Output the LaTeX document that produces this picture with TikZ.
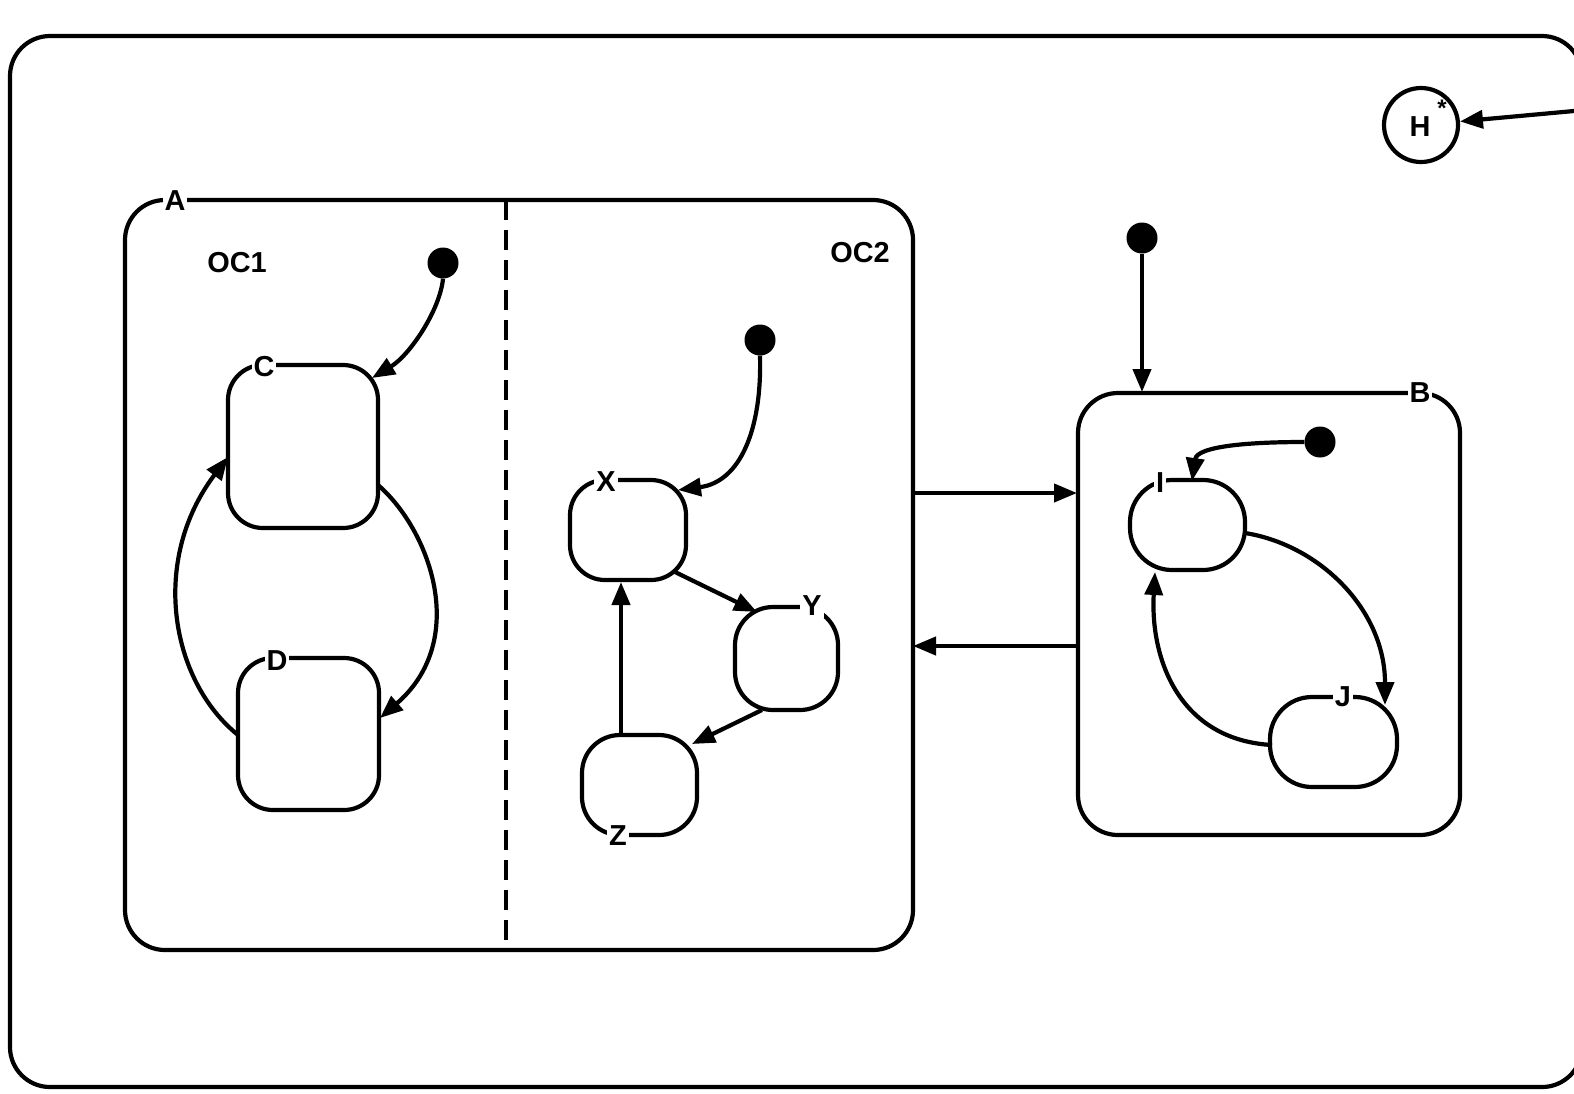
\documentclass[tikz,border=0pt]{standalone}
\usepackage{fontspec}
\setmainfont{Liberation Sans}
\usetikzlibrary{arrows.meta}
\begin{document}
\begin{tikzpicture}[x=1bp,y=-1bp,
  lw/.style={line width=4.2bp},
  state/.style={draw,lw,rounded corners=#1,inner sep=0pt,outer sep=0pt},
  state/.default=35bp,
  lbl/.style={fill=white,inner sep=2bp,font=\fontsize{29}{34}\selectfont\bfseries},
  txt/.style={inner sep=0pt,font=\fontsize{29}{34}\selectfont\bfseries},
  arr/.style={lw,-{Triangle[length=23bp,width=18bp]}},
  dot/.style={circle,fill=black,minimum size=31bp,inner sep=0pt}]
\useasboundingbox (0,0) rectangle (1574,1093);
\clip (0,0) rectangle (1574,1093);
% outer state
\node[state=40bp,minimum width=1572bp,minimum height=1051bp] (outer) at (796,561.5) {};
% history
\node[draw,lw,circle,minimum size=74bp,inner sep=0pt] (H) at (1421,125) {};
\node[txt] (Ht) at (1420,127) {H};
\node[inner sep=0pt,font=\fontsize{24}{26}\selectfont\bfseries] (Hs) at (1442,108) {*};
\coordinate (Hin) at (1585,110);
\draw[arr] (Hin) -- (H);
% A
\node[state=40bp,minimum width=788bp,minimum height=750bp] (A) at (519,575) {};
\draw[lw,dash pattern=on 20bp off 10bp] (A.north) ++(-13,0) coordinate (dtop) -- (dtop |- A.south);
\node[txt] (oc1) at (237,263) {OC1};
\node[txt] (oc2) at (860,253) {OC2};
% OC1
\node[dot] (d1) at (443,263) {};
\node[state=35bp,minimum width=150bp,minimum height=163bp] (C) at (303,446.5) {};
\node[state=35bp,minimum width=141bp,minimum height=152bp] (D) at (308.5,734) {};
\draw[arr] (d1.south) .. controls (440,310) and (410,355) .. (372,378);
\draw[arr] (378,485) .. controls (430,530) and (470,640) .. (380,718);
\draw[arr] (238,735) .. controls (170,680) and (150,560) .. (228,457);
% OC2
\node[dot] (d2) at (760,340) {};
\node[state=35bp,minimum width=116bp,minimum height=100bp] (X) at (628,530) {};
\node[state=38bp,minimum width=103bp,minimum height=103bp] (Y) at (786.5,658.5) {};
\node[state=38bp,minimum width=115bp,minimum height=100bp] (Z) at (639.5,785) {};
\draw[arr] (d2.south) .. controls (762,430) and (740,482) .. (678,490);
\draw[arr] (675,572) -- (757,612);
\draw[arr] (762,710) -- (692,744);
\draw[arr] (621,735) -- (621,582);
% B
\node[state=40bp,minimum width=382bp,minimum height=442bp] (B) at (1269,614) {};
\node[dot] (d3) at (1142,238) {};
\draw[arr] (d3.south) -- (1142,392);
\draw[arr] (913,493) -- (1077,493);
\draw[arr] (1077,646) -- (913,646);
\node[dot] (d4) at (1320,442) {};
\node[state=42bp,minimum width=115bp,minimum height=90bp] (I) at (1187.5,525) {};
\node[state=42bp,minimum width=127bp,minimum height=90bp] (J) at (1333.5,742) {};
\draw[arr] (d4.west) .. controls (1250,442) and (1197,446) .. (1192,481);
\draw[arr] (1245,533) .. controls (1320,545) and (1385,610) .. (1385,705);
\draw[arr] (1272,745) .. controls (1180,740) and (1150,660) .. (1155,572);
% labels on borders
\node[lbl] (lA) at (175,201) {A};
\node[lbl] (lC) at (264,367) {C};
\node[lbl] (lD) at (277,661) {D};
\node[lbl] (lX) at (606,482) {X};
\node[lbl] (lY) at (812,606) {Y};
\node[lbl] (lZ) at (618,836) {Z};
\node[lbl] (lI) at (1160,483) {I};
\node[lbl] (lJ) at (1343,697) {J};
\node[lbl] (lB) at (1420,393) {B};
\end{tikzpicture}
\end{document}
